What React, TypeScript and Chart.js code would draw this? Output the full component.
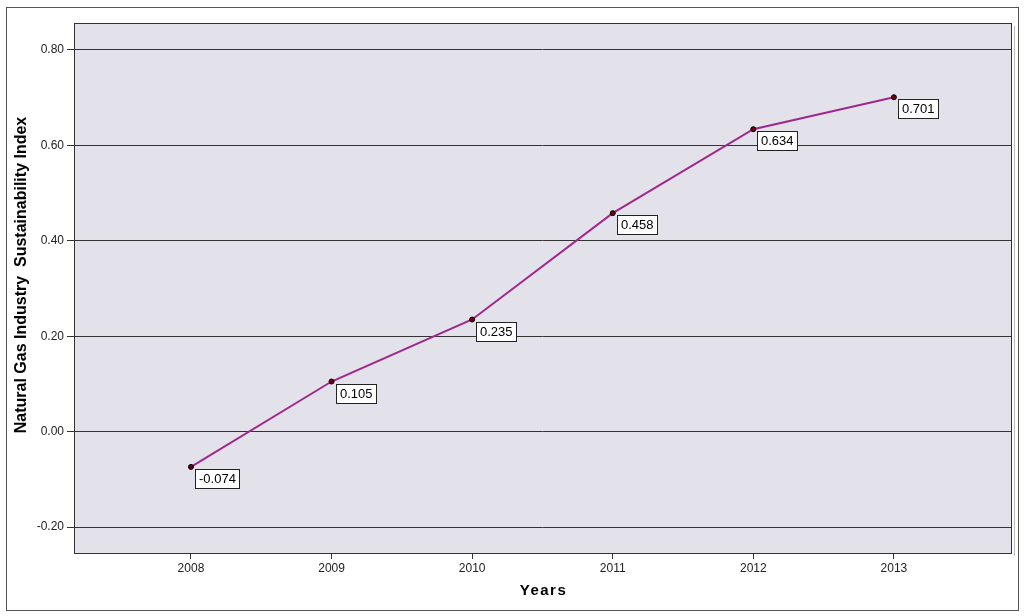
import React, { useEffect, useRef } from "react";
import { Chart, registerables } from "chart.js";

Chart.register(...registerables);

const years = [2008, 2009, 2010, 2011, 2012, 2013];
const indexValues = [-0.074, 0.105, 0.235, 0.458, 0.634, 0.701];
const yTickValues = [-0.2, 0, 0.2, 0.4, 0.6, 0.8];
const xTitle = "Years";
const yTitle = "Natural Gas Industry  Sustainability Index";

const decorPlugin = {
  id: "decor",
  beforeDraw(chart: any) {
    const { ctx, chartArea: a, width, height } = chart;
    ctx.save();
    ctx.fillStyle = "#ffffff";
    ctx.fillRect(0, 0, width, height);
    ctx.strokeStyle = "#555555";
    ctx.lineWidth = 1;
    ctx.strokeRect(6.5, 7.5, 1012, 603);
    ctx.fillStyle = "#e3e2ea";
    ctx.fillRect(a.left, a.top, a.right - a.left, a.bottom - a.top);
    ctx.restore();
  },
  afterDraw(chart: any) {
    const { ctx, chartArea: a } = chart;
    ctx.save();
    ctx.strokeStyle = "#333333";
    ctx.lineWidth = 1;
    ctx.strokeRect(Math.round(a.left) + 0.5, Math.round(a.top) + 0.5, Math.round(a.right - a.left), Math.round(a.bottom - a.top));
    ctx.strokeStyle = "#bbbbbb";
    ctx.beginPath();
    ctx.moveTo(Math.round(a.right) + 3.5, a.top + 3);
    ctx.lineTo(Math.round(a.right) + 3.5, a.bottom + 3);
    ctx.stroke();

    // titles
    ctx.fillStyle = "#000000";
    ctx.font = "bold 15px 'Liberation Sans', Arial, sans-serif";
    ctx.textAlign = "center";
    ctx.textBaseline = "middle";
    (ctx as any).letterSpacing = "1.5px";
    ctx.fillText(xTitle, (a.left + a.right) / 2 + 1, 591);
    (ctx as any).letterSpacing = "0px";
    ctx.translate(26, 275);
    ctx.rotate(-Math.PI / 2);
    ctx.textBaseline = "alphabetic";
    ctx.font = "bold 16px 'Liberation Sans Narrow', 'Liberation Sans', Arial, sans-serif";
    ctx.fillText(yTitle, 0, 0);
    ctx.restore();

    // value labels
    const meta = chart.getDatasetMeta(0);
    ctx.save();
    ctx.font = "13px 'Liberation Sans', Arial, sans-serif";
    ctx.textBaseline = "middle";
    ctx.textAlign = "left";
    meta.data.forEach((pt: any, i: number) => {
      const txt = indexValues[i].toFixed(3);
      const w = ctx.measureText(txt).width;
      const bx = Math.round(pt.x) + 4.5;
      const by = Math.round(pt.y) + 2.5;
      const bw = Math.round(w) + 7;
      const bh = 19;
      ctx.fillStyle = "#ffffff";
      ctx.fillRect(bx, by, bw, bh);
      ctx.strokeStyle = "#222222";
      ctx.lineWidth = 1;
      ctx.strokeRect(bx, by, bw, bh);
      ctx.fillStyle = "#000000";
      ctx.fillText(txt, bx + 3.5, by + bh / 2 + 0.5);
    });
    ctx.restore();
  },
};

export default function App() {
  const ref = useRef<HTMLCanvasElement>(null);
  useEffect(() => {
    const chart = new Chart(ref.current!, {
      type: "line",
      data: {
        datasets: [
          {
            data: years.map((y, i) => ({ x: y, y: indexValues[i] })),
            borderColor: "#a0288c",
            borderWidth: 2,
            pointRadius: 2.5,
            pointBackgroundColor: "#6a0010",
            pointBorderColor: "#000000",
            pointBorderWidth: 1,
            tension: 0,
          },
        ],
      },
      options: {
        responsive: false,
        animation: false,
        layout: { padding: { top: 23, right: 13, bottom: 0, left: 0 } },
        plugins: { legend: { display: false }, tooltip: { enabled: false } },
        scales: {
          x: {
            type: "linear",
            min: 2007.168,
            max: 2013.833,
            afterBuildTicks: (s: any) => {
              s.ticks = years.map((v) => ({ value: v }));
            },
            afterFit: (s: any) => {
              s.height = 63;
            },
            ticks: {
              autoSkip: false,
              maxRotation: 0,
              padding: 2,
              color: "#222222",
              font: { family: "'Liberation Sans', Arial, sans-serif", size: 12 },
              callback: (v: any) => String(v),
            },
            grid: { drawOnChartArea: false, drawTicks: true, tickLength: 6, color: "#333333" },
            border: { display: false },
          },
          y: {
            type: "linear",
            min: -0.2545,
            max: 0.8566,
            afterBuildTicks: (s: any) => {
              s.ticks = yTickValues.map((v) => ({ value: v }));
            },
            afterFit: (s: any) => {
              s.width = 74;
            },
            ticks: {
              padding: 3,
              color: "#222222",
              font: { family: "'Liberation Sans', Arial, sans-serif", size: 12 },
              callback: (v: any) => Number(v).toFixed(2),
            },
            grid: { color: "#333333", lineWidth: 1, tickLength: 7 },
            border: { display: false },
          },
        },
      },
      plugins: [decorPlugin],
    });
    return () => chart.destroy();
  }, []);
  return (
    <div style={{ position: "absolute", left: 0, top: 0 }}>
      <canvas ref={ref} width={1024} height={616} style={{ display: "block" }} />
    </div>
  );
}
